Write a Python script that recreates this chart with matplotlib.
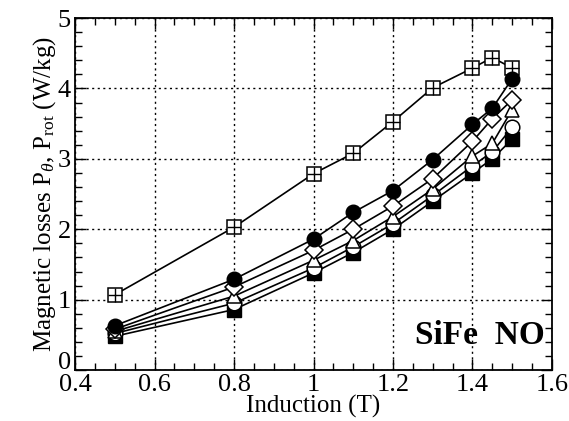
import matplotlib
matplotlib.use('Agg')
import matplotlib.pyplot as plt
import matplotlib.transforms as mtrans
from matplotlib.ticker import MultipleLocator

plt.rcParams['font.family'] = ['Liberation Serif', 'DejaVu Serif']
plt.rcParams['mathtext.fontset'] = 'custom'
plt.rcParams['mathtext.rm'] = 'Liberation Serif'
plt.rcParams['mathtext.it'] = 'Liberation Serif:italic'

# induction values (T)
induction = [0.5, 0.8, 1.0, 1.1, 1.2, 1.3, 1.4, 1.45, 1.5]

# losses (W/kg)
p_rot = [1.07, 2.03, 2.79, 3.08, 3.53, 4.01, 4.29, 4.44, 4.29]
p_circ = [0.63, 1.29, 1.86, 2.24, 2.55, 2.99, 3.49, 3.72, 4.14]
p_diam = [0.58, 1.18, 1.70, 2.00, 2.33, 2.72, 3.25, 3.57, 3.84]
p_tri = [0.55, 1.05, 1.56, 1.84, 2.18, 2.57, 3.04, 3.22, 3.70]
p_ocirc = [0.52, 0.95, 1.45, 1.75, 2.08, 2.48, 2.90, 3.10, 3.45]
p_sq = [0.48, 0.86, 1.38, 1.67, 2.00, 2.40, 2.80, 3.00, 3.28]

xticks = [0.4, 0.6, 0.8, 1.0, 1.2, 1.4, 1.6]
xlabels = ['0.4', '0.6', '0.8', '1', '1.2', '1.4', '1.6']
yticks = [0, 1, 2, 3, 4, 5]

fig = plt.figure(figsize=(5.69, 4.21), dpi=100)
ax = fig.add_axes([0.132, 0.121, 0.838, 0.836])

ms = 10.5
lw = 1.2
# top curve: square with a plus inside
ax.plot(induction, p_rot, '-', color='black', lw=lw, marker='s', ms=ms,
        mfc='white', mec='black', mew=1.1)
ax.plot(induction, p_rot, ' ', marker='+', ms=ms * 0.95, mec='black', mew=1.0)

ax.plot(induction, p_sq, '-', color='black', lw=lw, marker='s', ms=ms,
        mfc='black', mec='black')
ax.plot(induction, p_ocirc, '-', color='black', lw=lw, marker='o', ms=ms,
        mfc='white', mec='black', mew=1.1)
ax.plot(induction, p_tri, '-', color='black', lw=lw, marker='^', ms=ms,
        mfc='white', mec='black', mew=1.1)
ax.plot(induction, p_diam, '-', color='black', lw=lw, marker='D', ms=ms * 0.85,
        mfc='white', mec='black', mew=1.1)
ax.plot(induction, p_circ, '-', color='black', lw=lw, marker='o', ms=ms,
        mfc='black', mec='black')

ax.set_xlim(0.4, 1.6)
ax.set_ylim(0, 5)
ax.set_xticks(xticks)
ax.set_xticklabels(xlabels)
ax.set_yticks(yticks)
ax.xaxis.set_minor_locator(MultipleLocator(0.05))
ax.yaxis.set_minor_locator(MultipleLocator(0.2))

ax.tick_params(which='both', direction='in', top=True, right=True, labelsize=19, width=1.0)
ax.tick_params(which='major', length=8, pad=3)
ax.tick_params(axis='x', pad=3)
ax.tick_params(which='minor', length=5)
for s in ax.spines.values():
    s.set_linewidth(1.3)

# nudge the "0" label up a little so it sits above "0.4"
lab0 = ax.get_yticklabels()[0]
lab0.set_transform(lab0.get_transform() + mtrans.ScaledTranslation(0, 7 / 72, fig.dpi_scale_trans))

ax.grid(True, which='major', color='black', ls=(0, (1.5, 2.5)), lw=1.0)

ax.set_xlabel('Induction (T)', fontsize=18, labelpad=-1)
ax.set_ylabel(r'Magnetic losses P$_{\theta}$, P$_{\rm rot}$ (W/kg)', fontsize=18, labelpad=0)

ax.text(0.985, 0.055, 'SiFe  NO', transform=ax.transAxes, ha='right', va='bottom',
        fontsize=24, fontweight='bold')

fig.savefig('out.png', dpi=100)
